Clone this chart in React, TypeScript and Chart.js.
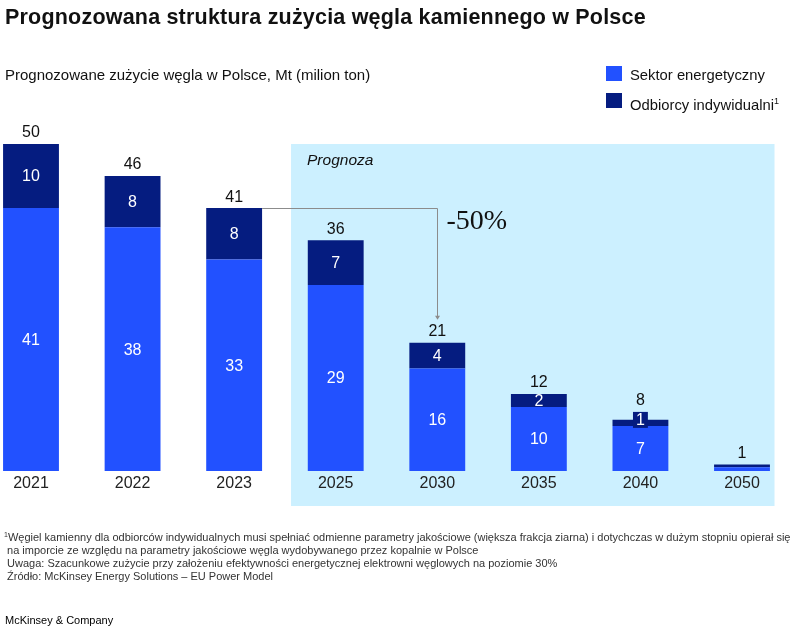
import React, { useEffect, useRef } from "react";
import { Chart, registerables } from "chart.js";

Chart.register(...registerables);

// Forecast coal consumption in Poland, Mt
const years = ["2021", "2022", "2023", "2025", "2030", "2035", "2040", "2050"];
const energySector = [41, 38, 33, 29, 16, 10, 7, 0.6];
const households = [10, 8, 8, 7, 4, 2, 1, 0.4];
const totals = [50, 46, 41, 36, 21, 12, 8, 1];
const forecastFrom = 3; // index of the first forecast year
const arrowFrom = 2; // 2023
const arrowTo = 4; // 2030
const changeLabel = "-50%";
const forecastLabel = "Prognoza";

const BLUE = "#2251FF";
const NAVY = "#051C80";
const SKY = "#CCF0FF";
const SANS = '"Liberation Sans", Arial, sans-serif';

const overlayPlugin = {
  id: "overlay",
  beforeDatasetsDraw(chart: any) {
    const { ctx, chartArea, scales } = chart;
    const x = scales.x;
    const step = x.getPixelForValue(1) - x.getPixelForValue(0);
    const left = x.getPixelForValue(forecastFrom) - 0.44 * step;
    const right = x.getPixelForValue(years.length - 1) + 0.32 * step;
    ctx.save();
    ctx.fillStyle = SKY;
    ctx.fillRect(left, chartArea.top, right - left, chartArea.bottom + 35 - chartArea.top);
    ctx.fillStyle = "#111";
    ctx.font = `italic 15.5px ${SANS}`;
    ctx.textBaseline = "alphabetic";
    ctx.textAlign = "left";
    ctx.fillText(forecastLabel, left + 16, chartArea.top + 21);
    ctx.restore();
  },
  afterDatasetsDraw(chart: any) {
    const { ctx, chartArea } = chart;
    const low = chart.getDatasetMeta(0).data;
    const high = chart.getDatasetMeta(1).data;
    ctx.save();
    ctx.font = `16px ${SANS}`;
    ctx.textAlign = "center";
    ctx.textBaseline = "middle";
    for (let i = 0; i < years.length; i++) {
      const a = low[i];
      const b = high[i];
      let top = b.y;
      if (energySector[i] >= 1) {
        ctx.fillStyle = "#fff";
        ctx.fillText(String(energySector[i]), a.x, (a.y + a.base) / 2 + 1);
      }
      if (households[i] >= 1) {
        const h = b.base - b.y;
        const cy = (b.y + b.base) / 2;
        const label = String(households[i]);
        if (h < 10) {
          const w = ctx.measureText(label).width + 6;
          const by = cy - 11;
          ctx.fillStyle = NAVY;
          ctx.fillRect(b.x - w / 2, by, w, 16);
          ctx.fillStyle = "#fff";
          ctx.fillText(label, b.x, by + 8.5);
          top = Math.min(top, by);
        } else {
          ctx.fillStyle = "#fff";
          ctx.fillText(label, b.x, cy + 1);
        }
      }
      ctx.fillStyle = "#111";
      ctx.fillText(String(totals[i]), b.x, top - 11);
      ctx.fillStyle = "#222";
      ctx.fillText(years[i], a.x, chartArea.bottom + 13);
    }

    // change arrow from 2023 to 2030
    const from = high[arrowFrom];
    const to = high[arrowTo];
    const sx = from.x + from.width / 2;
    const sy = Math.round(from.y) + 0.5;
    const tx = Math.round(to.x) + 0.5;
    const ty = to.y - 24;
    ctx.strokeStyle = "#8c8c8c";
    ctx.lineWidth = 1;
    ctx.beginPath();
    ctx.moveTo(sx, sy);
    ctx.lineTo(tx, sy);
    ctx.lineTo(tx, ty);
    ctx.stroke();
    ctx.fillStyle = "#8c8c8c";
    ctx.beginPath();
    ctx.moveTo(tx - 2.5, ty - 3);
    ctx.lineTo(tx + 2.5, ty - 3);
    ctx.lineTo(tx, ty + 1);
    ctx.closePath();
    ctx.fill();

    ctx.fillStyle = "#111";
    ctx.font = `28px "Liberation Serif", "Times New Roman", serif`;
    ctx.textAlign = "left";
    ctx.textBaseline = "alphabetic";
    ctx.fillText(changeLabel, tx + 9, sy + 20);
    ctx.restore();
  },
};

function CoalChart() {
  const ref = useRef<HTMLCanvasElement | null>(null);
  useEffect(() => {
    if (!ref.current) return;
    const chart = new Chart(ref.current, {
      type: "bar",
      data: {
        labels: years,
        datasets: [
          {
            label: "Sektor energetyczny",
            data: energySector,
            backgroundColor: BLUE,
            borderWidth: 0,
            clip: false as any,
          },
          {
            label: "Odbiorcy indywidualni",
            data: households,
            backgroundColor: NAVY,
            borderWidth: 0,
            clip: false as any,
          },
        ],
      },
      options: {
        responsive: false,
        animation: false,
        devicePixelRatio: 1,
        layout: { padding: { left: 31, right: 68, top: 144, bottom: 159 } },
        datasets: { bar: { categoryPercentage: 1, barPercentage: 0.55 } },
        scales: {
          x: { stacked: true, offset: false, display: false },
          y: { stacked: true, min: 0, max: 51, display: false },
        },
        plugins: {
          legend: { display: false },
          tooltip: { enabled: false },
          title: { display: false },
        },
      },
      plugins: [overlayPlugin],
    });
    return () => chart.destroy();
  }, []);
  return (
    <canvas
      ref={ref}
      width={810}
      height={630}
      style={{ position: "absolute", left: 0, top: 0, width: 810, height: 630 }}
    />
  );
}

const text = (extra: React.CSSProperties): React.CSSProperties => ({
  position: "absolute",
  fontFamily: SANS,
  color: "#111",
  whiteSpace: "nowrap",
  margin: 0,
  ...extra,
});

export default function App() {
  return (
    <div
      style={{
        position: "absolute",
        left: 0,
        top: 0,
        width: 810,
        height: 630,
        background: "#fff",
        overflow: "hidden",
      }}
    >
      <CoalChart />
      <div
        style={text({
          left: 5,
          top: 7,
          fontSize: 21.5,
          lineHeight: "21px",
          fontWeight: 700,
          letterSpacing: "0.2px",
        })}
      >
        Prognozowana struktura zużycia węgla kamiennego w Polsce
      </div>
      <div style={text({ left: 5, top: 66.5, fontSize: 15, lineHeight: "15px" })}>
        Prognozowane zużycie węgla w Polsce, Mt (milion ton)
      </div>
      <div style={{ position: "absolute", left: 606, top: 66, width: 16, height: 15, background: BLUE }} />
      <div style={text({ left: 630, top: 67.5, fontSize: 14.8, lineHeight: "14.8px" })}>
        Sektor energetyczny
      </div>
      <div style={{ position: "absolute", left: 606, top: 93, width: 16, height: 15, background: NAVY }} />
      <div style={text({ left: 630, top: 94, fontSize: 14.8, lineHeight: "14.8px" })}>
        Odbiorcy indywidualni<sup style={{ fontSize: 9, verticalAlign: "6px" }}>1</sup>
      </div>
      <div style={text({ left: 4, top: 528, fontSize: 11, lineHeight: "13px", color: "#333" })}>
        <div>
          <sup style={{ fontSize: 7, verticalAlign: "4px" }}>1</sup>Węgiel kamienny dla odbiorców indywidualnych musi spełniać odmienne parametry jakościowe (większa frakcja ziarna) i dotychczas w dużym stopniu opierał się
        </div>
        <div>&nbsp;na imporcie ze względu na parametry jakościowe węgla wydobywanego przez kopalnie w Polsce</div>
        <div>&nbsp;Uwaga: Szacunkowe zużycie przy założeniu efektywności energetycznej elektrowni węglowych na poziomie 30%</div>
        <div>&nbsp;Źródło: McKinsey Energy Solutions – EU Power Model</div>
      </div>
      <div style={text({ left: 5, top: 614, fontSize: 11, lineHeight: "12px", color: "#000" })}>
        McKinsey &amp; Company
      </div>
    </div>
  );
}
